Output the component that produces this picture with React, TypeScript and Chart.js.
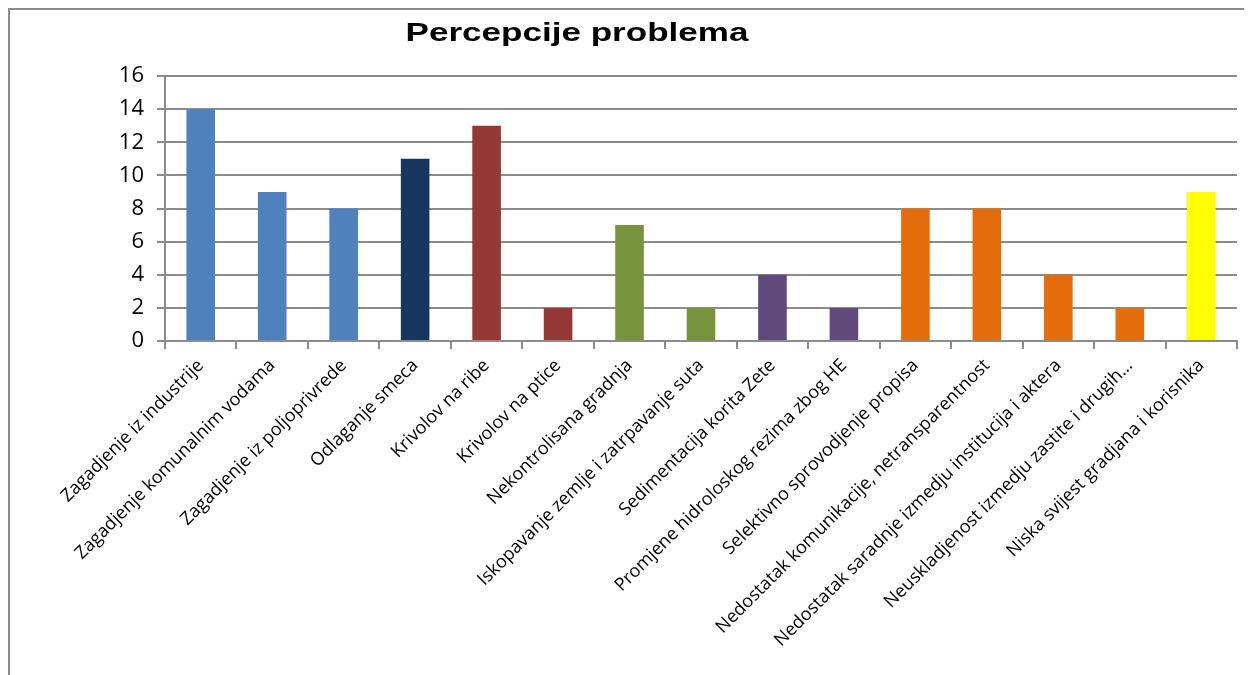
import React, { useEffect, useRef } from "react";
import { Chart, registerables } from "chart.js";

Chart.register(...registerables);

const titleText = "Percepcije problema";

const categories = [
  "Zagadjenje iz industrije",
  "Zagadjenje komunalnim vodama",
  "Zagadjenje iz poljoprivrede",
  "Odlaganje smeca",
  "Krivolov na ribe",
  "Krivolov na ptice",
  "Nekontrolisana gradnja",
  "Iskopavanje zemlje i zatrpavanje suta",
  "Sedimentacija korita Zete",
  "Promjene hidroloskog rezima zbog HE",
  "Selektivno sprovodjenje propisa",
  "Nedostatak komunikacije, netransparentnost",
  "Nedostatak saradnje izmedju institucija i aktera",
  "Neuskladjenost izmedju zastite i drugih…",
  "Niska svijest gradjana i korisnika",
];

const values = [14, 9, 8, 11, 13, 2, 7, 2, 4, 2, 8, 8, 4, 2, 9];

const barColors = [
  "#4F81BD", "#4F81BD", "#4F81BD",
  "#17375E",
  "#953735", "#953735",
  "#77933C", "#77933C",
  "#604A7B", "#604A7B",
  "#E46C0A", "#E46C0A", "#E46C0A", "#E46C0A",
  "#FFFF00",
];

const yMin = 0;
const yMax = 16;
const yStep = 2;

const GRID = "#8C8C8C";

const titlePlugin = {
  id: "customTitle",
  afterDraw(chart: any) {
    const ctx = chart.ctx;
    ctx.save();
    ctx.font = "bold 26px 'Liberation Sans', Arial, sans-serif";
    ctx.fillStyle = "#000";
    ctx.textAlign = "center";
    ctx.textBaseline = "middle";
    const w = ctx.measureText(titleText).width;
    const sx = 343 / w;
    ctx.translate(567, 24);
    ctx.scale(sx, 1);
    ctx.fillText(titleText, 0, 0);
    ctx.restore();
  },
};

export default function App() {
  const ref = useRef<HTMLCanvasElement | null>(null);

  useEffect(() => {
    if (!ref.current) return;
    const chart = new Chart(ref.current, {
      type: "bar",
      data: {
        labels: categories,
        datasets: [
          {
            data: values,
            backgroundColor: barColors,
            borderWidth: 0,
            categoryPercentage: 1,
            barPercentage: 0.4,
          },
        ],
      },
      options: {
        animation: false,
        responsive: false,
        devicePixelRatio: 1,
        layout: { padding: { top: 66, right: 15, left: 0, bottom: 0 } },
        plugins: {
          legend: { display: false },
          title: { display: false },
          tooltip: { enabled: false },
        },
        scales: {
          x: {
            grid: {
              drawOnChartArea: false,
              drawTicks: true,
              tickLength: 8,
              color: GRID,
              lineWidth: 2,
            },
            border: { color: GRID, width: 2 },
            ticks: {
              autoSkip: false,
              maxRotation: 45,
              minRotation: 45,
              padding: 6,
              color: "#000",
              font: { family: "'Open Sans', sans-serif", size: 18 },
            },
            afterFit(scale: any) {
              scale.height = 334;
            },
          },
          y: {
            min: yMin,
            max: yMax,
            ticks: {
              stepSize: yStep,
              padding: 13,
              color: "#000",
              font: { family: "'Open Sans', sans-serif", size: 22 },
            },
            grid: {
              color: GRID,
              lineWidth: 2,
              drawTicks: true,
              tickLength: 8,
            },
            border: { color: GRID, width: 2 },
            afterFit(scale: any) {
              scale.width = 155;
            },
          },
        },
      },
      plugins: [titlePlugin],
    });
    return () => chart.destroy();
  }, []);

  return (
    <div
      style={{
        width: 1244,
        height: 667,
        boxSizing: "border-box",
        borderTop: "2px solid #8C8C8C",
        borderLeft: "2px solid #8C8C8C",
        background: "#fff",
        overflow: "hidden",
      }}
    >
      <canvas ref={ref} width={1242} height={665} style={{ display: "block" }} />
    </div>
  );
}
